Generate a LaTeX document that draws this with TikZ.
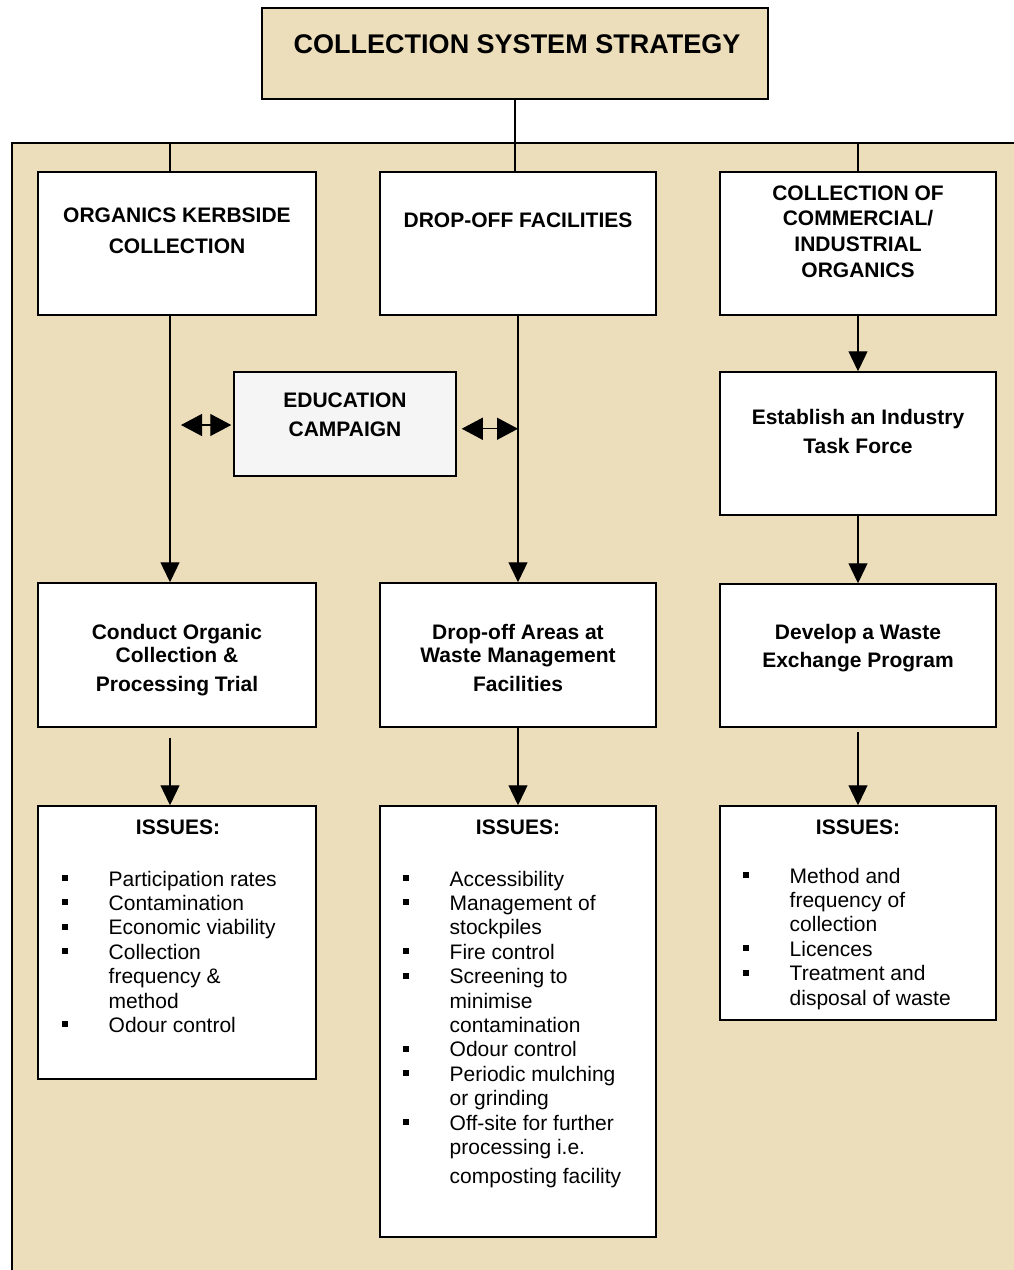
\documentclass[tikz,border=0pt]{standalone}
\usepackage{fontspec}
\setmainfont{Liberation Sans}
\usetikzlibrary{arrows.meta,calc}
\definecolor{parchment}{RGB}{236,222,187}
\definecolor{paleedu}{RGB}{245,245,245}
% square bullet followed by the gap up to the item text
\newcommand{\sqbul}{\makebox[46.5pt][l]{\rule[5pt]{6pt}{6pt}}}

\begin{document}
\begin{tikzpicture}[x=1pt,y=-1pt,
  box/.style={draw, line width=1.5pt, fill=white, inner sep=0pt},
  headtext/.style={font={\bfseries\fontsize{21}{#1}\selectfont}, anchor=base, inner sep=0pt},
  listtext/.style={font={\fontsize{21}{24.4}\selectfont}, anchor=base west, inner sep=0pt},
  link/.style={line width=1.3pt},
  arr/.style={line width=1.3pt, -{Triangle[length=20pt,width=19pt]}},
  darr/.style={line width=1.3pt, {Triangle[length=21pt,width=22pt]}-{Triangle[length=21pt,width=22pt]}}
]
\useasboundingbox (0,0) rectangle (1013,1270);
\fill[white] (0,0) rectangle (1013,1270);

% parchment panel behind the three columns
\fill[parchment] (12,143) rectangle (1020,1280);
\draw[line width=1.5pt] (12,1280) -- (12,143) -- (1020,143);

% helper coordinates
\coordinate (bus) at (516,143);
\coordinate (x1) at (170,0);

% title
\node[box, fill=parchment, minimum width=506pt, minimum height=91pt] (title) at (515,53.5) {};
\node[font={\bfseries\fontsize{27}{31}\selectfont}, anchor=base, inner sep=0pt] (titlet) at (517,53.3) {COLLECTION SYSTEM STRATEGY};

% first row
\node[box, minimum width=278pt, minimum height=143pt] (ka) at (177,243.5) {};
\node[box, minimum width=276pt, minimum height=143pt] (da) at (518,243.5) {};
\node[box, minimum width=276pt, minimum height=143pt] (ca) at (858,243.5) {};
\node[headtext=31] (kat) at (177,222.5) {\begin{tabular}[t]{@{}c@{}}ORGANICS KERBSIDE\\COLLECTION\end{tabular}};
\node[headtext=25] (dat) at (518,227) {DROP-OFF FACILITIES};
\node[headtext=25.7] (cat) at (858,200) {\begin{tabular}[t]{@{}c@{}}COLLECTION OF\\COMMERCIAL/\\INDUSTRIAL\\ORGANICS\end{tabular}};

% education campaign and task force
\node[box, fill=paleedu, minimum width=222pt, minimum height=104pt] (edu) at (345,423.75) {};
\node[headtext=28.3] (edut) at (345,407.7) {\begin{tabular}[t]{@{}c@{}}EDUCATION\\CAMPAIGN\end{tabular}};
\node[box, minimum width=276pt, minimum height=143pt] (tf) at (858,443.5) {};
\node[headtext=29.5] (tft) at (858,424) {\begin{tabular}[t]{@{}c@{}}Establish an Industry\\Task Force\end{tabular}};

% second row
\node[box, minimum width=278pt, minimum height=144pt] (kb) at (177,655) {};
\node[box, minimum width=276pt, minimum height=144pt] (db) at (518,655) {};
\node[box, minimum width=276pt, minimum height=143pt] (cb) at (858,655.5) {};
\node[headtext=23] (kbt) at (177,639) {\begin{tabular}[t]{@{}c@{}}Conduct Organic\\Collection \&\\[6pt]Processing Trial\end{tabular}};
\node[headtext=23] (dbt) at (518,639) {\begin{tabular}[t]{@{}c@{}}Drop-off Areas at\\Waste Management\\[6pt]Facilities\end{tabular}};
\node[headtext=28] (cbt) at (858,639) {\begin{tabular}[t]{@{}c@{}}Develop a Waste\\Exchange Program\end{tabular}};

% issue boxes
\node[box, minimum width=278pt, minimum height=273pt] (ki) at (177,942.5) {};
\node[box, minimum width=276pt, minimum height=431pt] (di) at (518,1021.5) {};
\node[box, minimum width=276pt, minimum height=214pt] (ci) at (858,913) {};
\node[headtext=25] (kit) at (178,834) {ISSUES:};
\node[headtext=25] (dit) at (518,834) {ISSUES:};
\node[headtext=25] (cit) at (858,834) {ISSUES:};

\node[listtext] (kil) at (62,886) {\begin{tabular}[t]{@{}l@{}l@{}}
\sqbul & Participation rates\\
\sqbul & Contamination\\
\sqbul & Economic viability\\
\sqbul & Collection\\
       & frequency \&\\
       & method\\
\sqbul & Odour control
\end{tabular}};

\node[listtext] (dil) at (403,886) {\begin{tabular}[t]{@{}l@{}l@{}}
\sqbul & Accessibility\\
\sqbul & Management of\\
       & stockpiles\\
\sqbul & Fire control\\
\sqbul & Screening to\\
       & minimise\\
       & contamination\\
\sqbul & Odour control\\
\sqbul & Periodic mulching\\
       & or grinding\\
\sqbul & Off-site for further\\
       & processing i.e.\\[5pt]
       & composting facility
\end{tabular}};

\node[listtext] (cil) at (743,883) {\begin{tabular}[t]{@{}l@{}l@{}}
\sqbul & Method and\\
       & frequency of\\
       & collection\\
\sqbul & Licences\\
\sqbul & Treatment and\\
       & disposal of waste
\end{tabular}};

% connectors from the title to the columns
\draw[link] (title.south) -- (title.south |- da.north);
\draw[link] (x1 |- bus) -- (x1 |- ka.north);
\draw[link] (ca.north |- bus) -- (ca.north);

% column arrows
\draw[arr] (x1 |- ka.south) -- (x1 |- kb.north);
\draw[arr] (da.south) -- (db.north);
\draw[arr] (ca.south) -- (tf.north);
\draw[arr] (tf.south) -- (cb.north);
\draw[arr] ([yshift=-10pt]x1 |- kb.south) -- (x1 |- ki.north);
\draw[arr] (db.south) -- (di.north);
\draw[arr] ([yshift=-4pt]cb.south) -- (ci.north);

% education campaign links
\coordinate (la) at (181,425);
\draw[darr] (la) -- ([xshift=-2pt]la -| edu.west);
\draw[darr] ([xshift=5pt,yshift=-5pt]edu.east) -- ([yshift=-5pt]edu.east -| da.south);
\end{tikzpicture}
\end{document}
